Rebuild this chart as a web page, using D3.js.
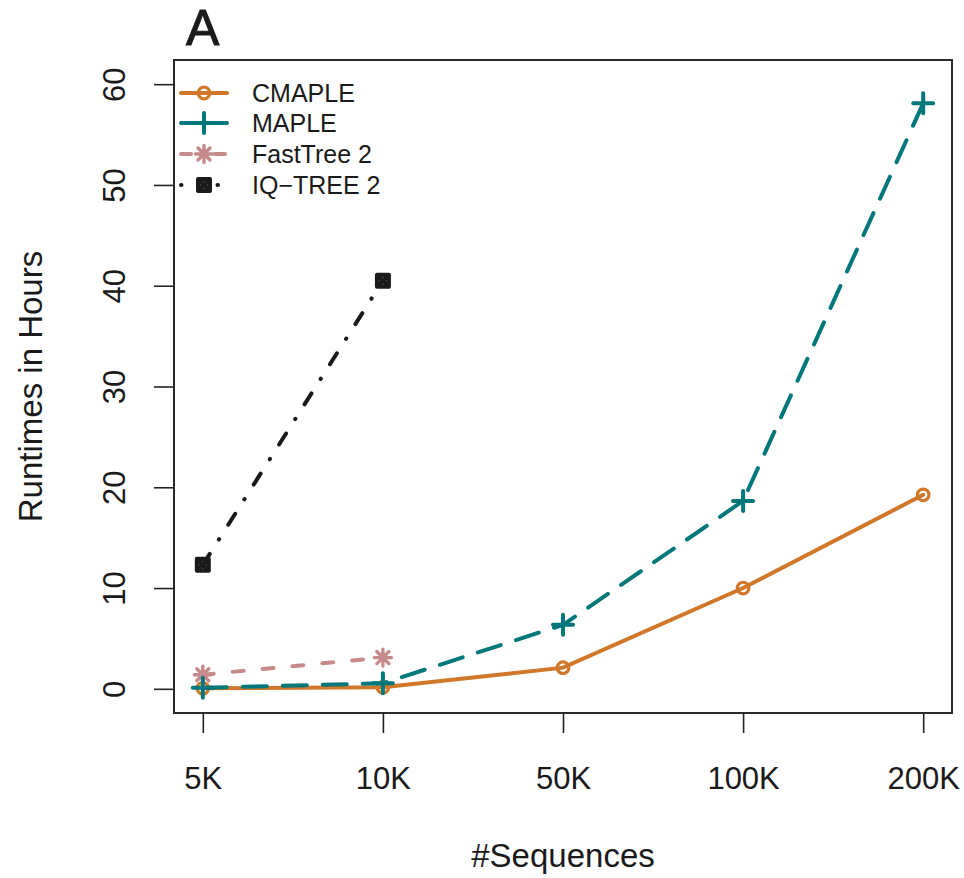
<!DOCTYPE html>
<html>
<head>
<meta charset="utf-8">
<script src="https://cdn.jsdelivr.net/npm/d3@7"></script>
<style>
  body { margin: 0; background: #fff; }
  text { font-family: "Liberation Sans", Arial, Helvetica, sans-serif; fill: #1a1a1a; }
</style>
</head>
<body>
<div id="chart"></div>
<script>
// data (runtimes in hours)
var categories = ["5K", "10K", "50K", "100K", "200K"];
var cmaple   = [0.05, 0.15, 2.1, 10.0, 19.25];
var maple    = [0.1, 0.55, 6.35, 18.65, 58.1];
var fasttree = [1.4, 3.1, null, null, null];
var iqtree   = [12.3, 40.5, null, null, null];
var yTicks   = [0, 10, 20, 30, 40, 50, 60];
var seriesNames = ["CMAPLE", "MAPLE", "FastTree 2", "IQ\u2212TREE 2"];

var W = 964, H = 878;
var box = { left: 174, right: 952, top: 60, bottom: 713 };

var series = [
  { name: seriesNames[0], values: cmaple,   color: "#d0772a", dash: null,           sym: "circle" },
  { name: seriesNames[2], values: fasttree, color: "#c68a8a", dash: "11,19",        sym: "star" },
  { name: seriesNames[1], values: maple,    color: "#00777a", dash: "24,16",        sym: "plus" },
  { name: seriesNames[3], values: iqtree,   color: "#1a1a1a", dash: "13,17,0.5,17", sym: "square" }
];

var svg = d3.select("#chart").append("svg")
  .attr("width", W).attr("height", H);

// scales (R style: 4% padding on both axes)
var x = d3.scaleLinear().domain([-0.16, categories.length - 1 + 0.16]).range([box.left, box.right]);
var y = d3.scaleLinear().domain([-2.4, 62.4]).range([box.bottom, box.top]);

// y axis
var yAxis = svg.append("g")
  .attr("transform", "translate(" + box.left + ",0)")
  .call(d3.axisLeft(y).tickValues(yTicks).tickSize(20).tickPadding(0));
yAxis.select(".domain").remove();
yAxis.selectAll(".tick line").attr("stroke", "#222").attr("stroke-width", 1.6);
yAxis.selectAll(".tick text")
  .attr("x", null).attr("dy", null)
  .attr("text-anchor", "middle")
  .attr("transform", "translate(-49,0) rotate(-90)")
  .style("font-size", "31px")
  .style("font-family", "'Liberation Sans', Arial, sans-serif")
  .attr("fill", "#1a1a1a");

// x axis
var xAxis = svg.append("g")
  .attr("transform", "translate(0," + box.bottom + ")")
  .call(d3.axisBottom(x).tickValues(d3.range(categories.length))
    .tickFormat(function(i){ return categories[i]; })
    .tickSize(20).tickPadding(0));
xAxis.select(".domain").remove();
xAxis.selectAll(".tick line").attr("stroke", "#222").attr("stroke-width", 1.6);
xAxis.selectAll(".tick text")
  .attr("y", 76).attr("dy", null)
  .style("font-size", "31px")
  .style("font-family", "'Liberation Sans', Arial, sans-serif")
  .attr("fill", "#1a1a1a");

// plot box
svg.append("rect")
  .attr("x", box.left).attr("y", box.top)
  .attr("width", box.right - box.left).attr("height", box.bottom - box.top)
  .attr("fill", "none").attr("stroke", "#2a2a2a").attr("stroke-width", 2);

// titles
svg.append("text")
  .attr("x", (box.left + box.right) / 2).attr("y", 867)
  .attr("text-anchor", "middle")
  .style("font-size", "33px")
  .text("#Sequences");

svg.append("text")
  .attr("transform", "translate(42," + (box.top + box.bottom) / 2 + ") rotate(-90)")
  .attr("text-anchor", "middle")
  .style("font-size", "33px")
  .text("Runtimes in Hours");

svg.append("text")
  .attr("x", 186).attr("y", 45)
  .style("font-size", "50px")
  .style("stroke", "#1a1a1a").style("stroke-width", "1px")
  .text("A");

// symbol drawing
function drawSymbol(g, type, color) {
  if (type == "circle") {
    g.append("circle").attr("r", 5.8)
      .attr("fill", "none").attr("stroke", color).attr("stroke-width", 3.2);
  } else if (type == "plus") {
    g.append("path").attr("d", "M-10,0H10M0,-10V10")
      .attr("stroke", color).attr("stroke-width", 4).attr("stroke-linecap", "round");
  } else if (type == "star") {
    var r = 8.5, d = r * Math.SQRT1_2;
    g.append("path")
      .attr("d", "M" + (-r) + ",0H" + r + "M0," + (-r) + "V" + r +
                 "M" + (-d) + "," + (-d) + "L" + d + "," + d +
                 "M" + (-d) + "," + d + "L" + d + "," + (-d))
      .attr("stroke", color).attr("stroke-width", 3.4).attr("stroke-linecap", "round");
  } else if (type == "square") {
    g.append("rect").attr("x", -8).attr("y", -8).attr("width", 16).attr("height", 16)
      .attr("rx", 2).attr("fill", color);
    // faint gaps of the crossed square
    [[0,-3.5],[-3.5,0],[3.5,0],[0,3.5]].forEach(function(p){
      g.append("circle").attr("cx", p[0]).attr("cy", p[1]).attr("r", 0.7).attr("fill", "#555");
    });
  }
}

// lines and points
var line = d3.line()
  .defined(function(d){ return d != null; })
  .x(function(d, i){ return x(i); })
  .y(function(d){ return y(d); });

series.forEach(function(s){
  svg.append("path")
    .datum(s.values)
    .attr("d", line)
    .attr("fill", "none")
    .attr("stroke", s.color)
    .attr("stroke-width", 4)
    .attr("stroke-linecap", "round")
    .attr("stroke-dasharray", s.dash);
  s.values.forEach(function(v, i){
    if (v == null) return;
    var g = svg.append("g").attr("transform", "translate(" + x(i) + "," + y(v) + ")");
    drawSymbol(g, s.sym, s.color);
  });
});

// legend (no box, like R bty="n")
var legendOrder = [series[0], series[2], series[1], series[3]];
var legendDash = [null, null, "10,24", "0.5,36"];
var rowY = [93, 123, 154, 185];
legendOrder.forEach(function(s, k){
  var g = svg.append("g").attr("transform", "translate(0," + rowY[k] + ")");
  g.append("line")
    .attr("x1", 181).attr("x2", 227).attr("y1", 0).attr("y2", 0)
    .attr("stroke", s.color).attr("stroke-width", 4)
    .attr("stroke-linecap", "round")
    .attr("stroke-dasharray", legendDash[k]);
  drawSymbol(g.append("g").attr("transform", "translate(204,0)"), s.sym, s.color);
  g.append("text")
    .attr("x", 252).attr("dy", "0.35em")
    .style("font-size", "25px")
    .text(s.name);
});
</script>
</body>
</html>
